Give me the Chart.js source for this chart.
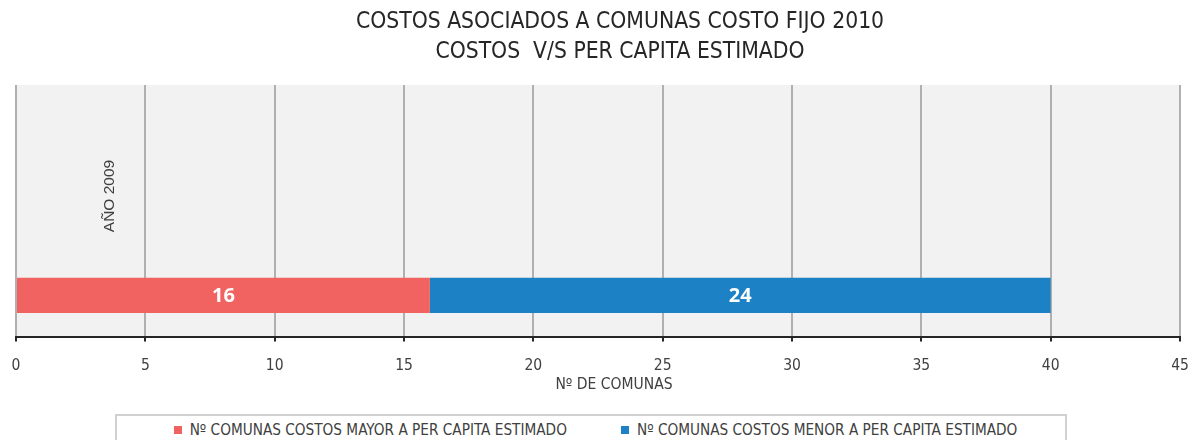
<!DOCTYPE html>
<html lang="es">

<head>
    <meta charset="UTF-8">
    <title>Costos asociados a comunas</title>
    <script src="https://cdn.jsdelivr.net/npm/chart.js"></script>
    <style>
        body { margin: 0; overflow: hidden; background: #fff; }
        #wrap { position: relative; width: 1195px; height: 440px; overflow: hidden; }
        #title {
            position: absolute; left: 45px; top: 5px; width: 1150px; text-align: center;
            font-family: 'DejaVu Sans Condensed', sans-serif; font-size: 22.7px;
            line-height: 30px; color: #262626; white-space: pre;
        }
        #chartBox { position: absolute; left: 0; top: 0; width: 1195px; height: 400px; }
        #legend {
            position: absolute; left: 115px; top: 414px; width: 939px; height: 60px;
            border: 2px solid #d0d0d0; display: flex; justify-content: center; align-items: flex-start;
            font-family: 'DejaVu Sans Condensed', sans-serif;
            font-size: 15.2px; color: #404040; padding: 4px 0 0 9px; line-height: 20px;
            white-space: nowrap;
        }
        .item { display: flex; align-items: center; margin: 0 27px; }
        .item span.sw { width: 8px; height: 8px; margin-right: 8px; }
    </style>
</head>

<body>
    <div id="wrap">
        <div id="chartBox"><canvas id="myChart"></canvas></div>
        <div id="title">COSTOS ASOCIADOS A COMUNAS COSTO FIJO 2010<br>COSTOS  V/S PER CAPITA ESTIMADO</div>
        <div id="legend"></div>
    </div>
    <script>
        // categories (the two blank rows were in the source sheet too)
        const categories = ['', '', 'AÑO 2009'];
        const mayor = [null, null, 16];
        const menor = [null, null, 24];
        const xTicks = [0, 5, 10, 15, 20, 25, 30, 35, 40, 45];
        const xTitle = 'Nº DE COMUNAS';

        const narrow = "'DejaVu Sans Condensed', sans-serif";

        // grey plot background
        const plotBg = {
            id: 'plotBg',
            beforeDraw(chart) {
                const { ctx, chartArea: a } = chart;
                ctx.save();
                ctx.fillStyle = '#f2f2f2';
                ctx.fillRect(a.left, a.top, a.right - a.left, a.bottom - a.top);
                ctx.restore();
            }
        };

        // white numbers inside the bars, the rotated year label, the x title
        const barLabels = {
            id: 'barLabels',
            afterDatasetsDraw(chart) {
                const ctx = chart.ctx;
                const a = chart.chartArea;
                ctx.save();
                ctx.fillStyle = '#fff';
                ctx.font = "bold 20px 'Open Sans', 'Liberation Sans', sans-serif";
                ctx.textAlign = 'center';
                ctx.textBaseline = 'middle';
                chart.data.datasets.forEach((ds, i) => {
                    chart.getDatasetMeta(i).data.forEach((bar, j) => {
                        if (ds.data[j] == null) return;
                        const p = bar.getCenterPoint();
                        ctx.fillText(ds.data[j], p.x, p.y + 1);
                    });
                });

                // axis title sits a bit right of centre in the original
                ctx.fillStyle = '#404040';
                ctx.font = '15.5px ' + narrow;
                ctx.fillText(xTitle, (a.left + a.right) / 2 + 16, a.bottom + 48);

                ctx.translate(a.left + 94, a.top + 111);
                ctx.rotate(-Math.PI / 2);
                ctx.font = "15.5px 'Liberation Sans', Arial, sans-serif";
                ctx.fillText(categories[2], 0, 0);
                ctx.restore();
            }
        };

        const ctx = document.getElementById('myChart').getContext('2d');
        const myChart = new Chart(ctx, {
            type: 'bar',
            data: {
                labels: categories,
                datasets: [{
                    label: 'Nº COMUNAS COSTOS MAYOR A PER CAPITA ESTIMADO',
                    data: mayor,
                    backgroundColor: '#f16361'
                }, {
                    label: 'Nº COMUNAS COSTOS MENOR A PER CAPITA ESTIMADO',
                    data: menor,
                    backgroundColor: '#1d81c6'
                }]
            },
            options: {
                indexAxis: 'y',
                responsive: true,
                maintainAspectRatio: false,
                animation: false,
                categoryPercentage: 1,
                barPercentage: 0.417,
                layout: { padding: { left: 16, right: 15, top: 85, bottom: 10 } },
                plugins: {
                    legend: { display: false },
                    tooltip: { enabled: false }
                },
                scales: {
                    x: {
                        stacked: true,
                        min: 0,
                        max: 45,
                        afterBuildTicks(scale) {
                            scale.ticks = xTicks.map(v => ({ value: v }));
                        },
                        // plot edges come from layout padding only
                        afterFit(scale) {
                            scale.paddingLeft = 0;
                            scale.paddingRight = 0;
                        },
                        grid: { color: '#b0b0b0', lineWidth: 2, tickColor: '#262626', tickLength: 4 },
                        border: { color: '#262626', width: 2 },
                        ticks: {
                            color: '#404040',
                            padding: 15,
                            maxRotation: 0,
                            font: { family: narrow, size: 15.5 }
                        }
                    },
                    y: {
                        stacked: true,
                        display: false
                    }
                }
            },
            plugins: [plotBg, barLabels]
        });

        // legend inside a bordered box under the chart
        const legendDiv = document.getElementById('legend');
        myChart.data.datasets.forEach(ds => {
            const item = document.createElement('div');
            item.className = 'item';
            const sw = document.createElement('span');
            sw.className = 'sw';
            sw.style.background = ds.backgroundColor;
            const txt = document.createElement('span');
            txt.textContent = ds.label;
            item.appendChild(sw);
            item.appendChild(txt);
            legendDiv.appendChild(item);
        });
    </script>
</body>

</html>
